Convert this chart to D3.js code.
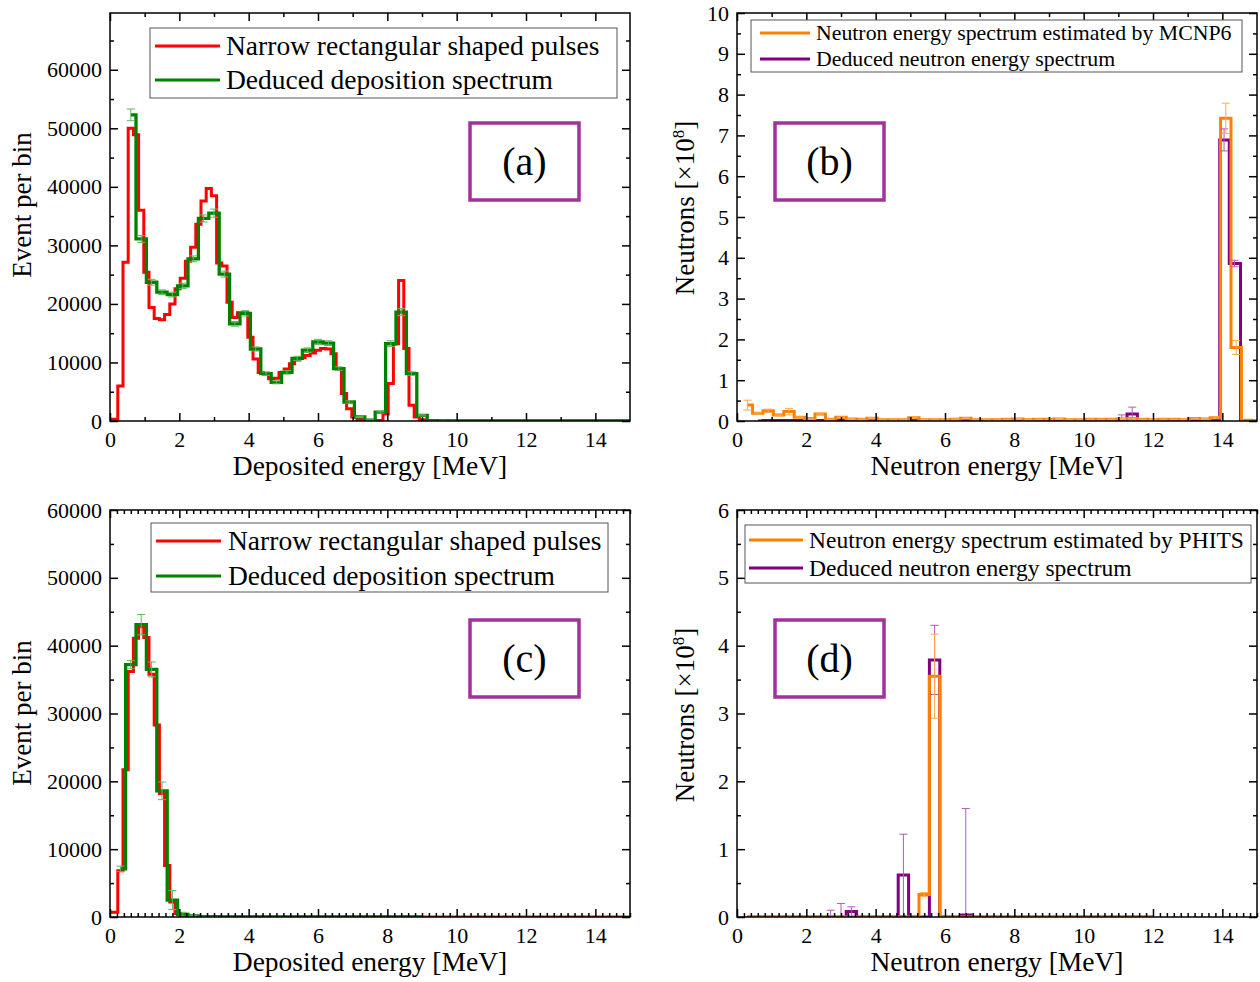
<!DOCTYPE html>
<html>
<head>
<meta charset="utf-8">
<script src="https://cdn.jsdelivr.net/npm/d3@7"></script>
<style>
  body { margin: 0; background: #fff; }
  svg { display: block; }
  text { font-family: "Liberation Serif", "Times New Roman", serif; fill: #000; }
</style>
</head>
<body>
<svg id="fig" width="1260" height="982"></svg>
<script>
// ---------------- axis tick labels ----------------
const energyMajorTicks = [0, 2, 4, 6, 8, 10, 12, 14];
const eventTicks = [0, 10000, 20000, 30000, 40000, 50000, 60000];
const neutronTicksB = [0, 1, 2, 3, 4, 5, 6, 7, 8, 9, 10];
const neutronTicksD = [0, 1, 2, 3, 4, 5, 6];

// ---------------- (a) deposition spectra, 14 MeV source ----------------
// narrow rectangular pulses: points every 0.15 MeV starting at 0 MeV
const redA_start = 0, redA_step = 0.15;
const redA = [
  300, 300, 6000, 27100, 50000, 48900, 36000, 25400, 19400, 17500,
  17300, 18200, 20000, 22600, 24400, 27300, 29700, 33600, 37600, 39700,
  38500, 27000, 26500, 20300, 17700, 18500, 18500, 14300, 10600, 8300,
  8000, 7200, 7300, 8300, 8900, 9800, 10400, 10800, 11200, 11600,
  12100, 12400, 12300, 11500, 8900, 4700, 2100, 700, 250, 100,
  100, 100, 100, 1200, 6400, 13200, 24000, 12400, 2700, 700,
  200, 60, 30, 20, 10, 10, 0, 0, 0, 0,
  0, 0, 0, 0, 0, 0, 0, 0, 0, 0,
  0, 0, 0, 0, 0, 0, 0, 0, 0, 0,
  0, 0, 0, 0, 0, 0, 0, 0, 0, 0, 0
];
// deduced deposition spectrum: points every 0.3 MeV starting at 0.6 MeV
const greenA_start = 0.6, greenA_step = 0.3;
const greenA = [
  52300, 31100, 23700, 22000, 21600, 23100, 27700, 34600, 35500, 25100,
  16600, 18400, 12300, 8100, 6600, 8300, 10700, 12100, 13500, 13300,
  8950, 3250, 700, 150, 1500, 13200, 18600, 8100, 970, 60,
  30, 20, 10, 10, 0, 0, 0, 0, 0, 0,
  0, 0, 0, 0, 0, 0, 0, 0, 0
];
const greenA_err = [
  1000, 600, 500, 400, 400, 450, 500, 600, 700, 500,
  400, 450, 350, 300, 250, 300, 350, 400, 450, 400,
  300, 200, 100, 50, 150, 500, 600, 300, 100, 20,
  10, 10, 0, 0, 0, 0, 0, 0, 0, 0,
  0, 0, 0, 0, 0, 0, 0, 0, 0
];

// ---------------- (b) neutron spectra, MCNP6 ----------------
const orangeB_E = [
  0.3, 0.6, 0.9, 1.2, 1.5, 1.8, 2.1, 2.4, 2.7, 3.0,
  3.3, 3.6, 3.9, 4.2, 4.5, 4.8, 5.1, 5.4, 5.7, 6.0,
  6.3, 6.6, 6.9, 7.2, 7.5, 7.8, 8.1, 8.4, 8.7, 9.0,
  9.3, 9.6, 9.9, 10.2, 10.5, 10.8, 11.1, 11.4, 11.7, 12.0,
  12.3, 12.6, 12.9, 13.2, 13.5, 13.8, 14.1, 14.4, 14.7, 15.0
];
const orangeB = [
  0.39, 0.19, 0.25, 0.15, 0.23, 0.09, 0.06, 0.17, 0.04, 0.09,
  0.05, 0.04, 0.07, 0.03, 0.03, 0.03, 0.08, 0.03, 0.03, 0.03,
  0.04, 0.07, 0.03, 0.03, 0.03, 0.04, 0.05, 0.03, 0.04, 0.04,
  0.05, 0.03, 0.03, 0.04, 0.04, 0.04, 0.05, 0.06, 0.04, 0.03,
  0.04, 0.04, 0.03, 0.06, 0.05, 0.08, 7.42, 1.80, 0.02, 0.0
];
const orangeB_err = [
  0.12, 0.02, 0.04, 0.02, 0.08, 0.01, 0.01, 0.02, 0.01, 0.01,
  0.01, 0.01, 0.01, 0.01, 0.01, 0.01, 0.01, 0.01, 0.01, 0.01,
  0.01, 0.01, 0.01, 0.01, 0.01, 0.01, 0.01, 0.01, 0.01, 0.01,
  0.01, 0.01, 0.01, 0.01, 0.01, 0.01, 0.01, 0.01, 0.01, 0.01,
  0.01, 0.01, 0.01, 0.01, 0.01, 0.02, 0.37, 0.17, 0.0, 0.0
];
const purpleB_E = [
  0.6, 0.9, 1.2, 1.5, 1.8, 2.1, 2.4, 2.7, 3.0, 3.3,
  3.6, 3.9, 4.2, 4.5, 4.8, 5.1, 5.4, 5.7, 6.0, 6.3,
  6.6, 6.9, 7.2, 7.5, 7.8, 8.1, 8.4, 8.7, 9.0, 9.3,
  9.6, 9.9, 10.2, 10.5, 10.8, 11.1, 11.4, 11.7, 12.0, 12.3,
  12.6, 12.9, 13.2, 13.5, 13.8, 14.05, 14.35, 14.7, 15.0
];
const purpleB = [
  0.0, 0.01, 0.01, 0.01, 0.01, 0.01, 0.01, 0.01, 0.01, 0.01,
  0.01, 0.01, 0.01, 0.01, 0.01, 0.01, 0.01, 0.01, 0.01, 0.01,
  0.01, 0.01, 0.01, 0.01, 0.01, 0.01, 0.01, 0.01, 0.01, 0.01,
  0.01, 0.01, 0.01, 0.01, 0.01, 0.02, 0.17, 0.01, 0.01, 0.01,
  0.01, 0.01, 0.01, 0.02, 0.03, 6.89, 3.86, 0.0, 0.0
];
const purpleB_err = [
  0, 0, 0, 0, 0, 0, 0, 0, 0, 0,
  0, 0, 0, 0, 0, 0, 0, 0, 0, 0,
  0, 0, 0, 0, 0, 0, 0, 0, 0, 0,
  0, 0, 0, 0, 0, 0.13, 0.17, 0, 0, 0,
  0, 0, 0, 0, 0, 0.27, 0.08, 0, 0
];

// ---------------- (c) deposition spectra, low-energy source ----------------
const redC_start = 0, redC_step = 0.15;
const redC = [
  700, 700, 6800, 21700, 36200, 41100, 42800, 41200, 35800, 28300,
  18200, 7600, 2200, 500, 200, 100, 60, 40, 30, 20,
  10, 10, 0, 0, 0, 0, 0, 0, 0, 0,
  0, 0, 0, 0, 0, 0, 0, 0, 0, 0,
  0, 0, 0, 0, 0, 0, 0, 0, 0, 0,
  0, 0, 0, 0, 0, 0, 0, 0, 0, 0,
  0, 0, 0, 0, 0, 0, 0, 0, 0, 0,
  0, 0, 0, 0, 0, 0, 0, 0, 0, 0,
  0, 0, 0, 0, 0, 0, 0, 0, 0, 0,
  0, 0, 0, 0, 0, 0, 0, 0, 0, 0, 0
];
const greenC_start = 0.3, greenC_step = 0.3;
const greenC = [
  7100, 37200, 43100, 36500, 18600, 2500, 400, 150, 60, 40,
  30, 20, 10, 10, 0, 0, 0, 0, 0, 0,
  0, 0, 0, 0, 0, 0, 0, 0, 0, 0
];
const greenC_err = [
  400, 600, 1500, 1100, 1300, 1400, 300, 100, 20, 10,
  0, 0, 0, 0, 0, 0, 0, 0, 0, 0,
  0, 0, 0, 0, 0, 0, 0, 0, 0, 0
];

// ---------------- (d) neutron spectra, PHITS ----------------
const energyD = [
  0.3, 0.6, 0.9, 1.2, 1.5, 1.8, 2.1, 2.4, 2.7, 3.0,
  3.3, 3.6, 3.9, 4.2, 4.5, 4.8, 5.1, 5.4, 5.7, 6.0,
  6.3, 6.6, 6.9, 7.2, 7.5, 7.8, 8.1, 8.4, 8.7, 9.0,
  9.3, 9.6, 9.9, 10.2, 10.5, 10.8, 11.1, 11.4, 11.7, 12.0
];
const orangeD = [
  0, 0, 0, 0, 0, 0, 0, 0, 0, 0,
  0, 0, 0, 0, 0, 0, 0, 0.33, 3.55, 0,
  0, 0, 0, 0, 0, 0, 0, 0, 0, 0,
  0, 0, 0, 0, 0, 0, 0, 0, 0, 0
];
const orangeD_err = [
  0, 0, 0, 0, 0, 0, 0, 0, 0, 0,
  0, 0, 0, 0, 0, 0, 0, 0.03, 0.62, 0,
  0, 0, 0, 0, 0, 0, 0, 0, 0, 0,
  0, 0, 0, 0, 0, 0, 0, 0, 0, 0
];
const purpleD = [
  0, 0, 0, 0, 0, 0, 0, 0, 0, 0,
  0.08, 0, 0, 0, 0, 0.62, 0, 0, 3.79, 0,
  0, 0.03, 0, 0, 0, 0, 0, 0, 0, 0,
  0, 0, 0, 0, 0, 0, 0, 0, 0, 0
];
const purpleD_err = [
  0, 0, 0, 0, 0, 0, 0, 0, 0.10, 0.20,
  0.07, 0, 0, 0, 0, 0.60, 0, 0, 0.51, 0,
  0, 1.57, 0, 0, 0, 0, 0, 0, 0, 0,
  0, 0, 0, 0, 0, 0, 0, 0, 0, 0
];

// ---------------- styles ----------------
const RED = "#ff0000", GREEN = "#008000", GREEN_ERR = "#5cb85c";
const ORANGE = "#ff8000", ORANGE_ERR = "#ffa850";
const PURPLE = "#800080", PURPLE_ERR = "#b35ab3";
const TAG = "#a1319d";

const svg = d3.select("#fig");

// build points from a regular grid description
function gridPoints(start, step, values, errs) {
  return values.map((v, i) => ({ e: +(start + i * step).toFixed(4), v, err: errs ? errs[i] : 0 }));
}
function listPoints(energies, values, errs) {
  return values.map((v, i) => ({ e: energies[i], v, err: errs ? errs[i] : 0 }));
}

let clipId = 0;
function drawPanel(cfg) {
  const g = svg.append("g");
  const x = d3.scaleLinear().domain([0, 15]).range([cfg.left, cfg.right]);
  const y = d3.scaleLinear().domain([0, cfg.ymax]).range([cfg.bottom, cfg.top]);

  const cid = "clip" + (clipId++);
  svg.append("clipPath").attr("id", cid).append("rect")
    .attr("x", cfg.left).attr("y", cfg.top)
    .attr("width", cfg.right - cfg.left).attr("height", cfg.bottom - cfg.top);
  const plot = g.append("g").attr("clip-path", `url(#${cid})`);

  const line = d3.line().x(d => x(d.e)).y(d => y(d.v)).curve(d3.curveStep);

  cfg.series.forEach(s => {
    plot.append("path").datum(s.points)
      .attr("fill", "none").attr("stroke", s.color)
      .attr("stroke-width", s.width).attr("stroke-linejoin", "miter")
      .attr("d", line);
  });
  // error bars on top of the steps
  cfg.series.forEach(s => {
    if (!s.errColor) return;
    const eb = plot.append("g").attr("stroke", s.errColor).attr("stroke-width", 1).attr("fill", "none");
    s.points.filter(d => d.err > 0).forEach(d => {
      const cx = x(d.e), y1 = y(d.v + d.err), y0 = y(d.v - d.err);
      eb.append("line").attr("x1", cx).attr("x2", cx).attr("y1", y0).attr("y2", y1);
      eb.append("line").attr("x1", cx - 4).attr("x2", cx + 4).attr("y1", y1).attr("y2", y1);
      eb.append("line").attr("x1", cx - 4).attr("x2", cx + 4).attr("y1", y0).attr("y2", y0);
    });
  });

  // frame
  g.append("rect").attr("x", cfg.left).attr("y", cfg.top)
    .attr("width", cfg.right - cfg.left).attr("height", cfg.bottom - cfg.top)
    .attr("fill", "none").attr("stroke", "#000").attr("stroke-width", 1.5);

  const tickStyle = sel => {
    sel.select(".domain").remove();
    sel.selectAll(".tick line").attr("stroke", "#000").attr("stroke-width", 1.5);
    sel.selectAll(".tick text").style("font-family", '"Liberation Serif", serif').style("font-size", "22px").attr("fill", "#000");
  };
  const fmt = d3.format("d");
  const majMinX = cfg.xMinor;
  const yMinor = cfg.yMinor;

  // bottom / top x axes
  g.append("g").attr("transform", `translate(0,${cfg.bottom})`)
    .call(d3.axisBottom(x).tickValues(energyMajorTicks).tickFormat(fmt).tickSize(-8).tickPadding(10)).call(tickStyle);
  g.append("g").attr("transform", `translate(0,${cfg.bottom})`)
    .call(d3.axisBottom(x).tickValues(majMinX).tickFormat("").tickSize(-4)).call(tickStyle);
  g.append("g").attr("transform", `translate(0,${cfg.top})`)
    .call(d3.axisTop(x).tickValues(energyMajorTicks).tickFormat("").tickSize(-8)).call(tickStyle);
  g.append("g").attr("transform", `translate(0,${cfg.top})`)
    .call(d3.axisTop(x).tickValues(majMinX).tickFormat("").tickSize(-4)).call(tickStyle);

  // left / right y axes
  g.append("g").attr("transform", `translate(${cfg.left},0)`)
    .call(d3.axisLeft(y).tickValues(cfg.yTicks).tickFormat(fmt).tickSize(-8).tickPadding(8)).call(tickStyle);
  g.append("g").attr("transform", `translate(${cfg.left},0)`)
    .call(d3.axisLeft(y).tickValues(yMinor).tickFormat("").tickSize(-4)).call(tickStyle);
  g.append("g").attr("transform", `translate(${cfg.right},0)`)
    .call(d3.axisRight(y).tickValues(cfg.yTicks).tickFormat("").tickSize(-8)).call(tickStyle);
  g.append("g").attr("transform", `translate(${cfg.right},0)`)
    .call(d3.axisRight(y).tickValues(yMinor).tickFormat("").tickSize(-4)).call(tickStyle);

  // axis titles
  g.append("text").attr("x", (cfg.left + cfg.right) / 2).attr("y", cfg.bottom + 54)
    .attr("text-anchor", "middle").style("font-size", "27.5px").text(cfg.xTitle);
  const yt = g.append("text")
    .attr("transform", `translate(${cfg.yTitleX},${cfg.yTitleY}) rotate(-90)`)
    .attr("text-anchor", "middle").style("font-size", "27px");
  if (cfg.yTitleSup) {
    yt.append("tspan").text(cfg.yTitle);
    yt.append("tspan").text(cfg.yTitleSup).style("font-size", "17px").attr("dy", "-10");
    yt.append("tspan").text("]").attr("dy", "10");
  } else {
    yt.text(cfg.yTitle);
  }

  // legend
  const L = cfg.legend;
  g.append("rect").attr("x", L.x).attr("y", L.y).attr("width", L.w).attr("height", L.h)
    .attr("fill", "#fff").attr("stroke", "#555").attr("stroke-width", 1);
  L.items.forEach((it, i) => {
    const ly = L.y + L.first + i * L.gap;
    g.append("line").attr("x1", L.x + L.lineX0).attr("x2", L.x + L.lineX1)
      .attr("y1", ly).attr("y2", ly).attr("stroke", it.color).attr("stroke-width", 3);
    g.append("text").attr("x", L.x + L.textX).attr("y", ly + L.fs * 0.34)
      .style("font-size", L.fs + "px").text(it.label);
  });

  // panel tag
  g.append("rect").attr("x", cfg.tag.x).attr("y", cfg.tag.y).attr("width", 109).attr("height", 77)
    .attr("fill", "none").attr("stroke", TAG).attr("stroke-width", 3.5);
  g.append("text").attr("x", cfg.tag.x + 54.5).attr("y", cfg.tag.y + 52)
    .attr("text-anchor", "middle").style("font-size", "40px").text(cfg.tag.label);
}

const minorEveryMeV = d3.range(1, 15, 2);
const minorFifthMeV = d3.range(0.2, 15.0001, 0.2).map(v => +v.toFixed(2)).filter(v => Math.abs(v / 2 - Math.round(v / 2)) > 1e-6);

drawPanel({
  left: 110, right: 630, top: 13, bottom: 421, ymax: 69700,
  yTicks: eventTicks, yMinor: d3.range(5000, 69000, 10000), xMinor: minorEveryMeV,
  xTitle: "Deposited energy [MeV]", yTitle: "Event per bin", yTitleX: 31, yTitleY: 205,
  series: [
    { points: gridPoints(redA_start, redA_step, redA), color: RED, width: 3 },
    { points: gridPoints(greenA_start, greenA_step, greenA, greenA_err), color: GREEN, width: 3.3, errColor: GREEN_ERR }
  ],
  legend: { x: 150, y: 28, w: 467, h: 70, first: 18, gap: 34, lineX0: 5, lineX1: 70, textX: 76, fs: 27.5,
    items: [{ color: RED, label: "Narrow rectangular shaped pulses" }, { color: GREEN, label: "Deduced deposition spectrum" }] },
  tag: { x: 470, y: 123, label: "(a)" }
});

drawPanel({
  left: 737, right: 1257, top: 13, bottom: 421, ymax: 10,
  yTicks: neutronTicksB, yMinor: d3.range(0.5, 10, 1), xMinor: minorEveryMeV,
  xTitle: "Neutron energy [MeV]", yTitle: "Neutrons [×10", yTitleSup: "8", yTitleX: 694, yTitleY: 208,
  series: [
    { points: listPoints(purpleB_E, purpleB, purpleB_err), color: PURPLE, width: 3, errColor: PURPLE_ERR },
    { points: listPoints(orangeB_E, orangeB, orangeB_err), color: ORANGE, width: 3, errColor: ORANGE_ERR }
  ],
  legend: { x: 751, y: 20, w: 491, h: 52, first: 13, gap: 26, lineX0: 9, lineX1: 59, textX: 65, fs: 21.8,
    items: [{ color: ORANGE, label: "Neutron energy spectrum estimated by MCNP6" }, { color: PURPLE, label: "Deduced neutron energy spectrum" }] },
  tag: { x: 775, y: 123, label: "(b)" }
});

drawPanel({
  left: 110, right: 630, top: 510, bottom: 917, ymax: 60000,
  yTicks: eventTicks, yMinor: d3.range(5000, 60000, 10000), xMinor: minorFifthMeV,
  xTitle: "Deposited energy [MeV]", yTitle: "Event per bin", yTitleX: 31, yTitleY: 713,
  series: [
    { points: gridPoints(redC_start, redC_step, redC), color: RED, width: 3 },
    { points: gridPoints(greenC_start, greenC_step, greenC, greenC_err), color: GREEN, width: 3.3, errColor: GREEN_ERR }
  ],
  legend: { x: 151, y: 523, w: 457, h: 69, first: 18, gap: 35, lineX0: 5, lineX1: 70, textX: 77, fs: 27.5,
    items: [{ color: RED, label: "Narrow rectangular shaped pulses" }, { color: GREEN, label: "Deduced deposition spectrum" }] },
  tag: { x: 470, y: 620, label: "(c)" }
});

drawPanel({
  left: 737, right: 1257, top: 510, bottom: 917, ymax: 6,
  yTicks: neutronTicksD, yMinor: d3.range(0.5, 6, 1), xMinor: minorFifthMeV,
  xTitle: "Neutron energy [MeV]", yTitle: "Neutrons [×10", yTitleSup: "8", yTitleX: 694, yTitleY: 715,
  series: [
    { points: listPoints(energyD, purpleD, purpleD_err), color: PURPLE, width: 3, errColor: PURPLE_ERR },
    { points: listPoints(energyD, orangeD, orangeD_err), color: ORANGE, width: 3, errColor: ORANGE_ERR }
  ],
  legend: { x: 745, y: 525, w: 506, h: 58, first: 15, gap: 28, lineX0: 4, lineX1: 58, textX: 64, fs: 23.5,
    items: [{ color: ORANGE, label: "Neutron energy spectrum estimated by PHITS" }, { color: PURPLE, label: "Deduced neutron energy spectrum" }] },
  tag: { x: 775, y: 620, label: "(d)" }
});
</script>
</body>
</html>
